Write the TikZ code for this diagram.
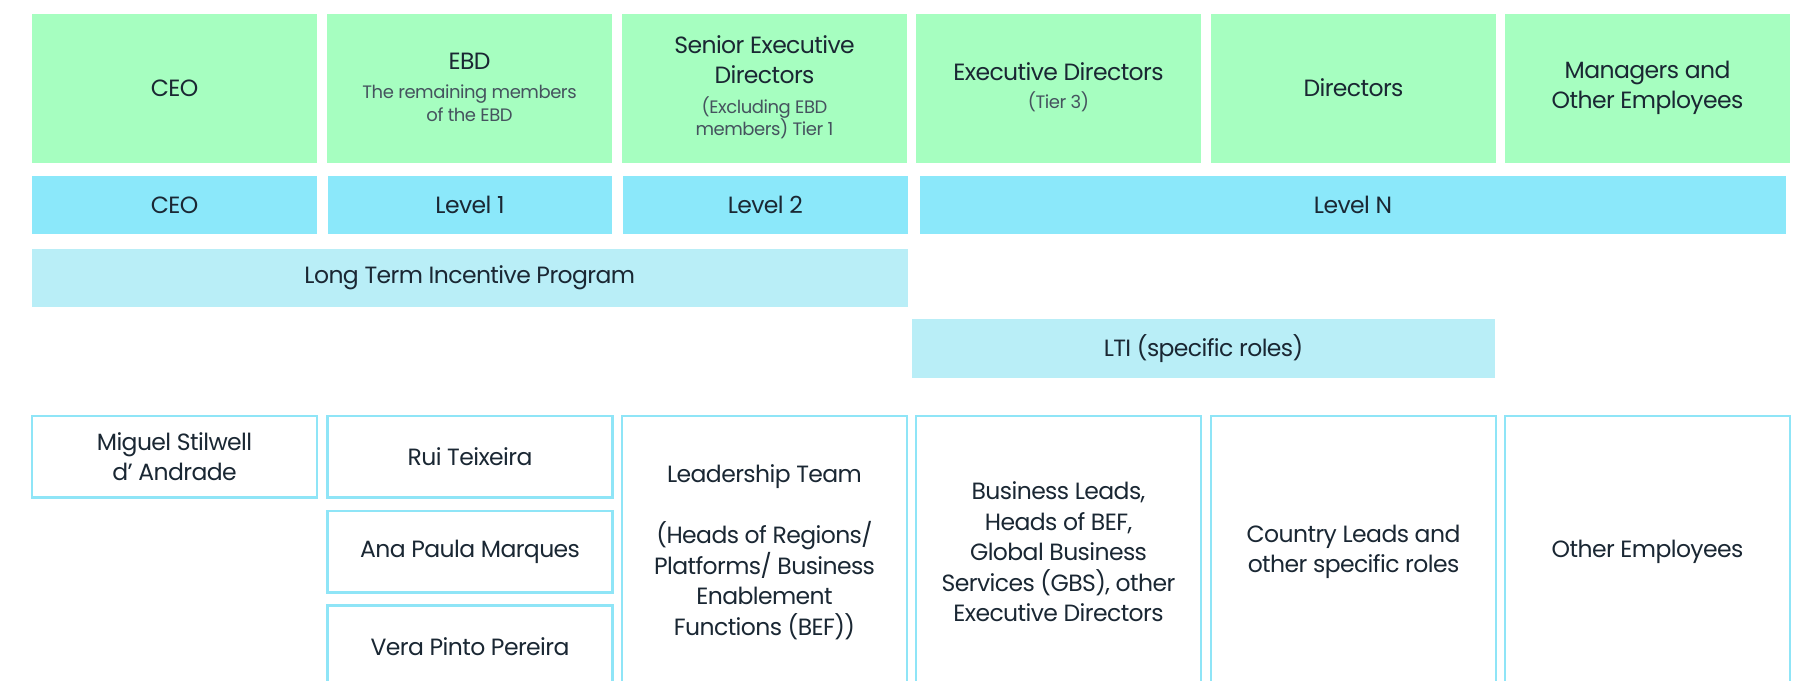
\documentclass[tikz,border=0pt]{standalone}
\usepackage{fontspec}
\setmainfont{Poppins}[LetterSpace=-2.5]
\definecolor{mint}{HTML}{A6FEC0}
\definecolor{lvl}{HTML}{8BE8FA}
\definecolor{ltip}{HTML}{B9EEF7}
\definecolor{edgec}{HTML}{8FE5F7}
\definecolor{ink}{HTML}{1A2733}
\definecolor{subink}{HTML}{45535E}
\newcommand\mainsz{\fontsize{23.5}{30.5}\selectfont}
\newcommand\subsz{\fontsize{18}{23}\selectfont}
\begin{document}
\begin{tikzpicture}[x=1pt,y=-1pt,
  box/.style={inner sep=0pt, outer sep=0pt, align=center, text=ink, font=\mainsz},
  head/.style={box, fill=mint, minimum width=285pt, minimum height=149pt},
  lev/.style={box, fill=lvl, minimum height=58pt},
  prog/.style={box, fill=ltip},
  role/.style={box, draw=edgec, line width=2.5pt, minimum width=285pt},
  mline/.style={inner sep=0pt, anchor=base, text=ink, font=\mainsz},
  sline/.style={inner sep=0pt, anchor=base, text=subink, font=\subsz},
]
\useasboundingbox[fill=white] (0,0) rectangle (1793,680);
% header row
\node[head] (hceo) at (174.5,88) {CEO};
\node[head] (hebd) at (469.5,88) {};
\node[mline] (hebdA) at (469.5,69.3) {EBD};
\node[sline] (hebdB) at (469.5,98.3) {The remaining members};
\node[sline] (hebdC) at (469.5,121.7) {of the EBD};
\node[head] (hsed) at (764.5,88) {};
\node[mline] (hsedA) at (764.5,53.3) {Senior Executive};
\node[mline] (hsedB) at (764.5,83.3) {Directors};
\node[sline] (hsedC) at (764.5,113.3) {(Excluding EBD};
\node[sline] (hsedD) at (764.5,135) {members) Tier 1};
\node[head] (hed) at (1058.5,88) {};
\node[mline] (hedA) at (1058.5,80) {Executive Directors};
\node[sline] (hedB) at (1058.5,108.3) {(Tier 3)};
\node[head] (hdir) at (1353.5,88) {Directors};
\node[head] (hman) at (1647.5,88) {Managers and\\Other Employees};
% level row
\node[lev, minimum width=285pt] (lceo) at (174.5,205) {CEO};
\node[lev, minimum width=284.5pt] (l1) at (470,205) {Level 1};
\node[lev, minimum width=284.5pt] (l2) at (765.3,205) {Level 2};
\node[lev, minimum width=866pt] (ln) at (1353,205) {Level N};
% programs
\node[prog, minimum width=875.6pt, minimum height=57.7pt] (ltip) at (469.8,277.8) {Long Term Incentive Program};
\node[prog, minimum width=583.7pt, minimum height=59pt] (lti) at (1203.5,348.8) {LTI (specific roles)};
% roles
\node[role, minimum height=81.7pt] (miguel) at (174.5,456.8) {Miguel Stilwell\\d’ Andrade};
\node[role, minimum height=81.7pt] (rui) at (470,456.8) {Rui Teixeira};
\node[role, minimum height=81.7pt] (ana) at (470,551.8) {Ana Paula Marques};
\node[role, minimum height=81.7pt] (vera) at (470,646.5) {Vera Pinto Pereira};
\node[role, minimum height=272pt] (lead) at (764.5,552) {Leadership Team\\[30.5pt](Heads of Regions/\\Platforms/ Business\\Enablement\\Functions (BEF))};
\node[role, minimum height=272pt] (bus) at (1058.5,552) {Business Leads,\\Heads of BEF,\\Global Business\\Services (GBS), other\\Executive Directors};
\node[role, minimum height=272pt] (ctry) at (1353.5,552) {Country Leads and\\other specific roles};
\node[role, minimum height=272pt] (oth) at (1647.5,552) {Other Employees};
\end{tikzpicture}
\end{document}
